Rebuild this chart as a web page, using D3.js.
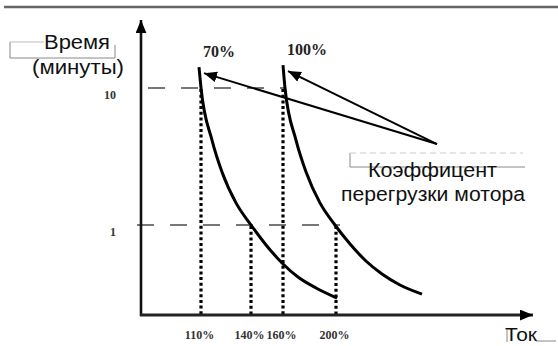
<!DOCTYPE html>
<html><head><meta charset="utf-8">
<script src="https://cdn.jsdelivr.net/npm/d3@7"></script>
<style>
html,body{margin:0;padding:0;background:#fff;}
svg{display:block;}
</style></head>
<body>
<svg id="chart" width="558" height="346"></svg>
<script>
// ---- data ----
const currentTicks = [110, 140, 160, 200];          // % of rated current
const timeTicks = [1, 10];                           // minutes
const seriesNames = ["70%", "100%"];
// curve points: [current %, time in minutes]
const curve70 = [[108.8,14.2],[110,10],[116.6,4.17],[122.6,2.44],[131,1.45],[140,1.0],[149.4,0.715],[159.4,0.528],[171.3,0.417],[184.9,0.347],[200.75,0.293]];
const curve100 = [[160,14.7],[161.5,10],[169.8,4.17],[177.4,2.44],[187.9,1.45],[199.2,1.0],[210.6,0.727],[222.6,0.546],[234.7,0.439],[248.3,0.365],[264.9,0.313]];
// dotted guide lines: [current %, time level where they start]
const guides = [[110,10],[140,1],[160,10],[200,1]];
// dashed time levels: [time, current % where they end]
const levels = [[10,162],[1,203]];
// annotation anchor (where the two arrows start) [current %, time]
const anchor = [276.2, 3.9];
const yTitle = ["Время", "(минуты)"];
const xTitle = "Ток";
const noteLines = ["Коэффицент", "перегрузки мотора"];

// ---- scales ----
const svg = d3.select("#chart");
const x = d3.scaleLinear().domain([110,140,160,200]).range([201,251,283,336]);
const y = d3.scaleLog().domain([1,10]).range([225,88]);
const axisX0 = 141, axisY0 = 315;

// top rule
svg.append("line").attr("x1",4).attr("x2",558).attr("y1",7).attr("y2",7)
  .attr("stroke","#666").attr("stroke-width",2.5);

// markers
const defs = svg.append("defs");
defs.append("marker").attr("id","ah").attr("viewBox","0 0 12 10")
  .attr("refX",12).attr("refY",5).attr("markerWidth",13).attr("markerHeight",11)
  .attr("markerUnits","userSpaceOnUse").attr("orient","auto")
  .append("path").attr("d","M0,0 L12,5 L0,10 Z").attr("fill","#000");

// dashed levels
svg.selectAll(".lvl").data(levels).join("line").attr("class","lvl")
  .attr("x1", d => d[0] === 10 ? 148 : 137).attr("x2", d => x(d[1]))
  .attr("y1", d => y(d[0])).attr("y2", d => y(d[0]))
  .attr("stroke","#777").attr("stroke-width",1.8).attr("stroke-dasharray","17,16");

// dotted guides
svg.selectAll(".guide").data(guides).join("line").attr("class","guide")
  .attr("x1", d => x(d[0])).attr("x2", d => x(d[0]))
  .attr("y1", d => y(d[1]) + 1).attr("y2", axisY0 + 2)
  .attr("stroke","#000").attr("stroke-width",3.2).attr("stroke-dasharray","3,2.7");

// axes lines with arrows
svg.append("line").attr("x1",axisX0).attr("x2",axisX0).attr("y1",axisY0+1).attr("y2",20)
  .attr("stroke","#111").attr("stroke-width",2.6).attr("marker-end","url(#ah)");
svg.append("line").attr("x1",axisX0-1).attr("x2",533).attr("y1",axisY0).attr("y2",axisY0)
  .attr("stroke","#222").attr("stroke-width",3).attr("marker-end","url(#ah)");

// tick labels through d3 axes
const gx = svg.append("g").attr("transform",`translate(0,${axisY0})`)
  .call(d3.axisBottom(x).tickValues(currentTicks).tickSize(0).tickPadding(15).tickFormat(d => d + "%"));
gx.select(".domain").remove();
gx.selectAll("text").attr("font-family","'Liberation Serif','Times New Roman',serif")
  .attr("font-weight","bold").attr("font-size",12).attr("fill","#333").attr("dx",-2);

const gy = svg.append("g").attr("transform",`translate(${axisX0},0)`)
  .call(d3.axisLeft(y).tickValues(timeTicks).tickSize(0).tickPadding(25).tickFormat(d3.format("d")));
gy.select(".domain").remove();
gy.selectAll("text").attr("font-family","'Liberation Serif','Times New Roman',serif")
  .attr("font-weight","bold").attr("font-size",12).attr("fill","#333").attr("dy","0.85em");

// curves
const line = d3.line().x(d => x(d[0])).y(d => y(d[1])).curve(d3.curveMonotoneX);
const curves = [curve70, curve100];
svg.selectAll(".curve").data(curves).join("path").attr("class","curve")
  .attr("d", line).attr("fill","none").attr("stroke","#000").attr("stroke-width",3)
  .attr("stroke-linecap","butt");

// series labels
svg.selectAll(".slab").data(curves).join("text").attr("class","slab")
  .attr("x", d => x(d[0][0]) + 4).attr("y", d => y(d[0][1]) - 10)
  .attr("font-family","'Liberation Serif','Times New Roman',serif")
  .attr("font-weight","bold").attr("font-size",16).attr("fill","#222")
  .text((d,i) => seriesNames[i]);

// arrows
svg.selectAll(".arr").data(curves).join("line").attr("class","arr")
  .attr("x1", x(anchor[0])).attr("y1", y(anchor[1]))
  .attr("x2", d => x(d[0][0]) + 5).attr("y2", d => y(d[0][1]) + 6)
  .attr("stroke","#000").attr("stroke-width",2).attr("marker-end","url(#ah)");

// faint box artifacts
const art = svg.append("g").attr("fill","none").attr("stroke","#888").attr("stroke-width",1);
art.append("path").attr("d","M10,42 V58 H115 M115,45 V58");
art.append("path").attr("d","M10,42 H44").attr("stroke","#bbb");
art.append("path").attr("d","M350,153 V167 H525");
art.append("path").attr("d","M350,153 H523").attr("stroke","#ccc").attr("stroke-dasharray","6,4");
art.append("path").attr("d","M507,330 V342 M536,341 H556");

// titles
const sans = "'Liberation Sans',Arial,Helvetica,sans-serif";
svg.append("text").attr("x",44).attr("y",49).attr("font-family",sans).attr("font-size",20)
  .attr("textLength",66).attr("lengthAdjust","spacingAndGlyphs").attr("fill","#111").text(yTitle[0]);
svg.append("text").attr("x",32).attr("y",74).attr("font-family",sans).attr("font-size",20)
  .attr("textLength",92).attr("lengthAdjust","spacingAndGlyphs").attr("fill","#111").text(yTitle[1]);
svg.append("text").attr("x",368).attr("y",177).attr("font-family",sans).attr("font-size",20)
  .attr("textLength",129).attr("lengthAdjust","spacingAndGlyphs").attr("fill","#111").text(noteLines[0]);
svg.append("text").attr("x",341).attr("y",201).attr("font-family",sans).attr("font-size",20)
  .attr("textLength",184).attr("lengthAdjust","spacingAndGlyphs").attr("fill","#111").text(noteLines[1]);
svg.append("text").attr("x",505).attr("y",341).attr("font-family",sans).attr("font-size",18)
  .attr("textLength",32).attr("lengthAdjust","spacingAndGlyphs").attr("fill","#111").text(xTitle);
</script>
</body></html>
